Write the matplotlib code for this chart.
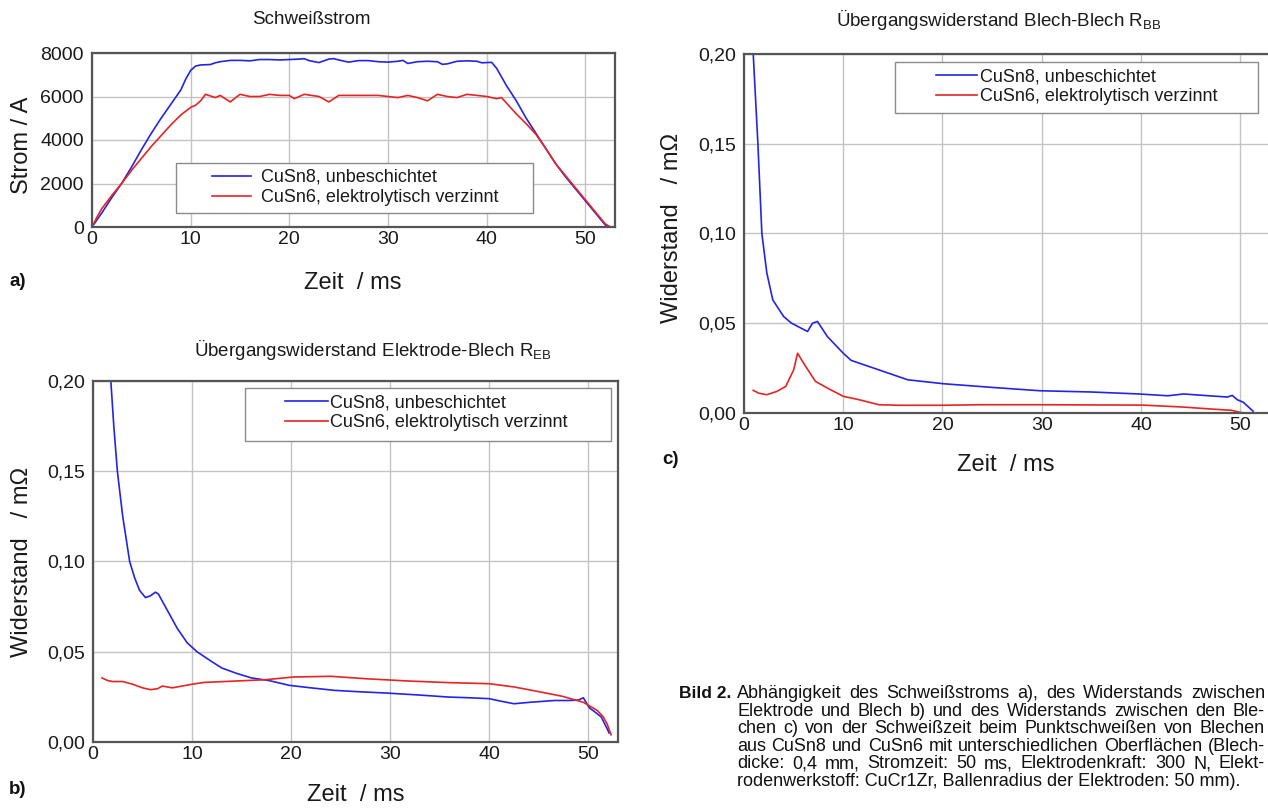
import matplotlib
matplotlib.use("Agg")
import matplotlib.pyplot as plt
from matplotlib.ticker import FuncFormatter, MultipleLocator
from matplotlib.patches import Rectangle

plt.rcParams['font.family'] = ['Liberation Sans', 'DejaVu Sans']
plt.rcParams['mathtext.default'] = 'regular'

W, H = 1268, 810

# ---------------- data ----------------
series_names = ["CuSn8, unbeschichtet", "CuSn6, elektrolytisch verzinnt"]

# a) Schweißstrom
strom_t_blue = [0, 1, 2, 3, 4, 5, 6, 7, 8, 9, 9.5, 10, 10.5, 11, 12, 12.5, 13, 14, 15, 16,
                17, 18, 19, 20, 21, 21.5, 22, 23, 24, 24.5, 25, 26, 27, 28, 29, 30, 31,
                31.5, 32, 33, 34, 35, 35.5, 36, 37, 38, 39, 39.5, 40, 40.5, 41, 42, 43,
                44, 45, 46, 47, 48, 49, 50, 51, 52, 52.5, 53]
strom_blue = [0, 650, 1350, 2000, 2750, 3550, 4300, 5000, 5650, 6300, 6800, 7200, 7400,
              7450, 7470, 7550, 7600, 7660, 7660, 7640, 7700, 7700, 7680, 7700, 7720,
              7740, 7650, 7560, 7720, 7740, 7680, 7580, 7650, 7650, 7600, 7580, 7620,
              7660, 7520, 7600, 7620, 7600, 7480, 7500, 7620, 7640, 7620, 7550, 7560,
              7570, 7300, 6500, 5800, 5000, 4300, 3600, 2900, 2300, 1750, 1200, 650,
              100, 0, 0]
strom_t_red = [0, 0.5, 1, 2, 3, 4, 5, 6, 7, 8, 9, 10, 10.5, 11, 11.5, 12.5, 13, 14, 15,
               16, 17, 18, 19, 20, 20.5, 21.5, 23, 24, 25, 27, 29, 30, 31, 32, 33, 34,
               35, 36, 37, 38, 40, 41, 41.5, 42, 43, 44, 45, 46, 47, 48, 49, 50, 51, 52,
               52.5, 53]
strom_red = [0, 450, 850, 1450, 2000, 2600, 3150, 3700, 4200, 4700, 5150, 5500, 5600,
             5800, 6100, 5950, 6050, 5750, 6100, 6000, 6000, 6100, 6050, 6050, 5900,
             6100, 6000, 5750, 6050, 6050, 6050, 6000, 5950, 6050, 5950, 5800, 6100,
             6000, 5950, 6100, 6000, 5900, 5950, 5700, 5200, 4750, 4250, 3600, 2900,
             2350, 1800, 1250, 700, 150, 0, 0]

# b) Übergangswiderstand Elektrode-Blech
reb_t_blue = [1.8, 2.1, 2.46, 3.0, 3.7, 4.2, 4.7, 5.3, 5.8, 6.3, 6.6, 7.5, 8.5, 9.5, 10.5,
              12, 13, 14.5, 16, 17.8, 19.8, 22, 24.4, 27, 29.7, 33, 35.9, 38, 40, 41,
              42.5, 44.1, 46.6, 48, 49, 49.5, 50.1, 50.7, 51.3, 51.9, 52.1]
reb_blue = [0.200, 0.175, 0.150, 0.125, 0.100, 0.091, 0.084, 0.080, 0.081, 0.083, 0.082,
            0.073, 0.063, 0.055, 0.050, 0.0445, 0.041, 0.038, 0.0355, 0.034, 0.0314,
            0.030, 0.0286, 0.0278, 0.0271, 0.026, 0.0249, 0.0245, 0.024, 0.0228, 0.0212,
            0.022, 0.023, 0.023, 0.0232, 0.0245, 0.019, 0.0165, 0.0139, 0.0074, 0.005]
reb_t_red = [0.9, 1.5, 2, 3, 4, 5, 5.8, 6.5, 7, 8, 9, 10, 11.2, 13.7, 17.4, 20.2, 24, 27.7,
             31.8, 35.9, 40, 42.5, 44.9, 47.4, 49.5, 50.9, 51.5, 51.9, 52.3]
reb_red = [0.0355, 0.034, 0.0335, 0.0335, 0.032, 0.030, 0.029, 0.0295, 0.031, 0.030,
           0.031, 0.032, 0.033, 0.0336, 0.0345, 0.036, 0.0364, 0.035, 0.0338, 0.0329,
           0.0323, 0.0305, 0.028, 0.0253, 0.022, 0.0175, 0.014, 0.010, 0.004]

# c) Übergangswiderstand Blech-Blech
rbb_t_blue = [0.93, 1.4, 1.8, 2.3, 2.9, 4.0, 4.8, 6.4, 6.9, 7.4, 8.4, 10.0, 10.8, 13.6,
              16.5, 20.1, 24.9, 29.8, 35.0, 39.8, 42.7, 44.3, 46.3, 48.7, 49.2, 49.7,
              50.3, 51.3]
rbb_blue = [0.200, 0.150, 0.100, 0.078, 0.063, 0.0537, 0.050, 0.0454, 0.050, 0.051,
            0.0426, 0.0333, 0.0293, 0.024, 0.0185, 0.0163, 0.0143, 0.0124, 0.0117,
            0.0106, 0.0096, 0.0106, 0.0098, 0.0089, 0.0098, 0.0074, 0.006, 0.001]
rbb_t_red = [0.93, 1.5, 2.3, 3.3, 4.2, 5.0, 5.4, 6.0, 7.2, 8.4, 10.0, 11.6, 13.6, 15.6,
             20.1, 23.7, 29.8, 40.2, 44.3, 47.1, 49.1, 50.3]
rbb_red = [0.0126, 0.011, 0.0102, 0.012, 0.0148, 0.024, 0.0333, 0.0278, 0.0176, 0.0139,
           0.0093, 0.0074, 0.0046, 0.0043, 0.0043, 0.0046, 0.0046, 0.0044, 0.0033,
           0.0022, 0.0015, 0.0]

titles = ["Schweißstrom",
          "Übergangswiderstand Elektrode-Blech R$_{EB}$",
          "Übergangswiderstand Blech-Blech R$_{BB}$"]
caption_head = "Bild 2."
caption_lines = [
    "Abhängigkeit des Schweißstroms a), des Widerstands zwischen",
    "Elektrode und Blech b) und des Widerstands zwischen den Ble-",
    "chen c) von der Schweißzeit beim Punktschweißen von Blechen",
    "aus CuSn8 und CuSn6 mit unterschiedlichen Oberflächen (Blech-",
    "dicke: 0,4 mm, Stromzeit: 50 ms, Elektrodenkraft: 300 N, Elekt-",
    "rodenwerkstoff: CuCr1Zr, Ballenradius der Elektroden: 50 mm).",
]

BLUE = "#2424e6"
RED = "#e62424"
SPINE = "#555555"
GRID = "#c4c4c4"
TXT = "#1a1a1a"

fig = plt.figure(figsize=(W / 100, H / 100), dpi=100)


def rect(l, t, r, b):
    return [l / W, 1 - b / H, (r - l) / W, (b - t) / H]


def fx(x):
    return x / W


def fy(y):
    return 1 - y / H


def style(ax, ymax, ystep, fmt):
    ax.set_xlim(0, 53)
    ax.set_ylim(0, ymax)
    ax.xaxis.set_major_locator(MultipleLocator(10))
    ax.yaxis.set_major_locator(MultipleLocator(ystep))
    ax.yaxis.set_major_formatter(FuncFormatter(fmt))
    ax.grid(True, color=GRID, linewidth=1.0)
    ax.set_axisbelow(True)
    for s in ax.spines.values():
        s.set_color(SPINE)
        s.set_linewidth(1.6)
    ax.tick_params(length=0, labelsize=14, colors=TXT)
    ax.tick_params(axis="y", pad=6)
    ax.tick_params(axis="x", pad=3)


def legend_box(ax, lines, box, hx, hlen, tpad):
    l, t, r, b = box
    ax.add_patch(Rectangle((fx(l), fy(b)), fx(r - l), (b - t) / H,
                           transform=fig.transFigure, facecolor="white",
                           edgecolor="#8a8a8a", linewidth=1.0, zorder=5,
                           clip_on=False))
    lg = ax.legend(lines, series_names, loc="upper left",
                   bbox_to_anchor=(fx(hx), fy(t + 6)), bbox_transform=fig.transFigure,
                   frameon=False, fontsize=13, handlelength=hlen, handletextpad=tpad,
                   borderpad=0, borderaxespad=0, labelspacing=0.17)
    for txt in lg.get_texts():
        txt.set_color(TXT)
    lg.set_zorder(6)


# a)
axa = fig.add_axes(rect(92, 53, 615, 227))
la1, = axa.plot(strom_t_blue, strom_blue, color=BLUE, lw=1.2)
la2, = axa.plot(strom_t_red, strom_red, color=RED, lw=1.2)
style(axa, 8000, 2000, lambda v, p: f"{v:.0f}")
legend_box(axa, [la1, la2], (176, 163, 533, 213), 212, 2.15, 0.55)

# b)
axb = fig.add_axes(rect(93, 381, 618, 742))
lb1, = axb.plot(reb_t_blue, reb_blue, color=BLUE, lw=1.2)
lb2, = axb.plot(reb_t_red, reb_red, color=RED, lw=1.2)
style(axb, 0.20, 0.05, lambda v, p: f"{v:.2f}".replace(".", ","))
legend_box(axb, [lb1, lb2], (245, 388, 611, 441), 285, 2.4, 0.12)

# c)
axc = fig.add_axes(rect(744, 54, 1270, 413))
lc1, = axc.plot(rbb_t_blue, rbb_blue, color=BLUE, lw=1.2)
lc2, = axc.plot(rbb_t_red, rbb_red, color=RED, lw=1.2)
style(axc, 0.20, 0.05, lambda v, p: f"{v:.2f}".replace(".", ","))
legend_box(axc, [lc1, lc2], (895, 62, 1258, 113), 936, 2.25, 0.18)

# titles
tk = dict(fontsize=13.5, ha="center", va="center", color=TXT)
fig.text(fx(311), fy(20), titles[0], **tk)
fig.text(fx(373), fy(350), titles[1], **tk)
fig.text(fx(999), fy(20), titles[2], **tk)

# axis labels
lab_kw = dict(fontsize=17, color=TXT)
fig.text(fx(22), fy(145), "Strom / A", rotation=90, ha="center", va="center", **lab_kw)
fig.text(fx(22), fy(562), "Widerstand   / mΩ", rotation=90, ha="center", va="center", **lab_kw)
fig.text(fx(672), fy(228), "Widerstand   / mΩ", rotation=90, ha="center", va="center", **lab_kw)
fig.text(fx(353), fy(283), "Zeit  / ms", ha="center", va="center", **lab_kw)
fig.text(fx(356), fy(795), "Zeit  / ms", ha="center", va="center", **lab_kw)
fig.text(fx(1006), fy(465), "Zeit  / ms", ha="center", va="center", **lab_kw)

# panel letters
pk = dict(fontsize=13.5, fontweight="bold", ha="left", va="center", color="#111")
fig.text(fx(9), fy(281), "a)", **pk)
fig.text(fx(9), fy(789), "b)", **pk)
fig.text(fx(662), fy(459), "c)", **pk)

# caption
cap_fs = 13
fig.text(fx(679), fy(694), caption_head, fontsize=12.5, fontweight="bold",
         ha="left", va="center", color="#111")
x_left, x_right = 737, 1265
renderer = fig.canvas.get_renderer()
for i, line in enumerate(caption_lines):
    y = fy(694 + i * 17.4)
    words = line.split(" ")
    if i == len(caption_lines) - 1:
        fig.text(fx(x_left), y, line, fontsize=cap_fs, ha="left", va="center", color="#111")
        continue
    objs = [fig.text(0, y, w, fontsize=cap_fs, ha="left", va="center", color="#111")
            for w in words]
    widths = [o.get_window_extent(renderer).width for o in objs]
    gap = (x_right - x_left - sum(widths)) / (len(words) - 1)
    x = x_left
    for o, w in zip(objs, widths):
        o.set_x(fx(x))
        x += w + gap

fig.savefig("out.png", dpi=100)
